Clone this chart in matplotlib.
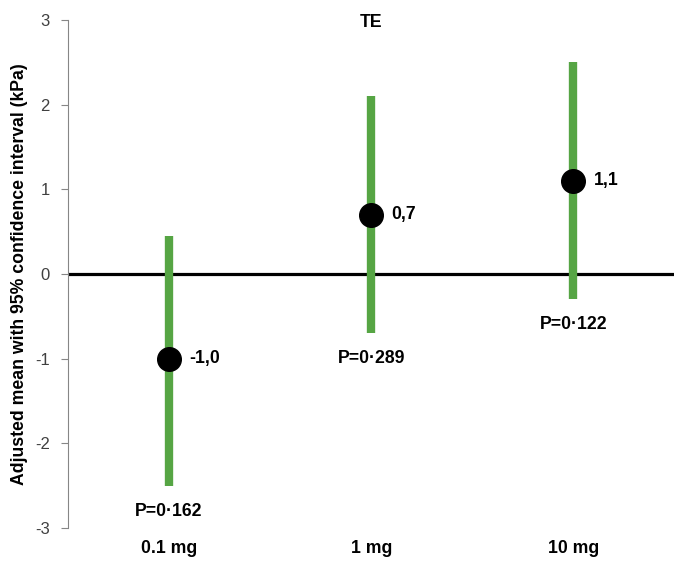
import matplotlib.pyplot as plt

plt.rcParams['font.family'] = ['Liberation Sans', 'DejaVu Sans']
plt.rcParams['axes.unicode_minus'] = False

# data
doses = ['0.1 mg', '1 mg', '10 mg']
means = [-1.0, 0.7, 1.1]
ci_low = [-2.5, -0.7, -0.3]
ci_high = [0.45, 2.1, 2.5]
mean_labels = ['-1,0', '0,7', '1,1']
p_labels = ['P=0·162', 'P=0·289', 'P=0·122']

fig = plt.figure(figsize=(6.76, 5.61), dpi=100)
ax = fig.add_axes([0.1006, 0.0588, 0.897, 0.9055])

xs = [i + 0.5 for i in range(len(doses))]
green = '#56a544'
fs = 12.7

ax.axhline(0, color='black', lw=2.3, zorder=1)
for x, m, lo, hi, ml, pl in zip(xs, means, ci_low, ci_high, mean_labels, p_labels):
    ax.vlines(x, lo, hi, color=green, lw=6, zorder=2)
    ax.plot(x, m, 'o', color='black', ms=17, zorder=3)
    ax.text(x + 0.1, m, ml, fontsize=fs, fontweight='bold', va='center', ha='left')
    ax.text(x, lo - 0.3, pl, fontsize=fs, fontweight='bold', va='center', ha='center')

ax.set_xlim(0, 3)
ax.set_ylim(-3, 3)
ax.set_yticks(range(-3, 4))
ax.set_xticks([])
for s in ['top', 'right', 'bottom']:
    ax.spines[s].set_visible(False)
ax.spines['left'].set_color('#868686')
ax.tick_params(axis='y', colors='#868686', length=5, labelsize=12, labelcolor='#404040', pad=8)

for x, d in zip(xs, doses):
    ax.text(x, -3.24, d, fontsize=fs, fontweight='bold', ha='center', va='center')

ax.text(1.5, 2.97, 'TE', fontsize=fs, fontweight='bold', ha='center', va='center')
ax.set_ylabel('Adjusted mean with 95% confidence interval (kPa)', fontsize=fs, fontweight='bold', labelpad=5)

fig.savefig('out.png', dpi=100)
